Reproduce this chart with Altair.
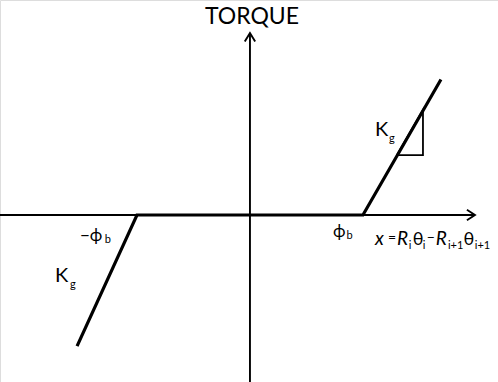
import altair as alt
import pandas as pd

# Torque vs. relative displacement: dead band of width 2*phi_b, stiffness K_g outside it
disp = [-1.53, -1.0, 1.0, 1.69]
torque = [-1.16, 0.0, 0.0, 1.20]

# slope triangle on the right branch
tri_x = [1.30, 1.531, 1.531, 1.30]
tri_y = [0.53, 0.53, 0.930, 0.53]

# coordinate axes (with open arrowheads)
axis_seg = ["h", "h", "v", "v", "ha", "ha", "ha", "va", "va", "va"]
axis_x = [-2.22, 1.991, 0.0, 0.0, 1.920, 1.991, 1.920, -0.046, 0.0, 0.046]
axis_y = [0.0, 0.0, -1.48, 1.611, 0.046, 0.0, -0.046, 1.535, 1.611, 1.535]

XDOM = [-2.212, 2.195]
YDOM = [-1.478, 1.903]

curve_df = pd.DataFrame({"x": disp, "y": torque, "o": range(len(disp))})
tri_df = pd.DataFrame({"x": tri_x, "y": tri_y, "o": range(len(tri_x))})
axis_df = pd.DataFrame({"seg": axis_seg, "x": axis_x, "y": axis_y,
                        "o": range(len(axis_x))})

xs = alt.Scale(domain=XDOM, nice=False, zero=False)
ys = alt.Scale(domain=YDOM, nice=False, zero=False)
X = alt.X("x:Q", scale=xs, axis=None)
Y = alt.Y("y:Q", scale=ys, axis=None)

axes = alt.Chart(axis_df).mark_line(color="black", strokeWidth=1.9).encode(
    x=X, y=Y, detail="seg:N", order="o:Q")
curve = alt.Chart(curve_df).mark_line(color="black", strokeWidth=3.2).encode(
    x=X, y=Y, order="o:Q")
tri = alt.Chart(tri_df).mark_line(color="black", strokeWidth=1.8).encode(
    x=X, y=Y, order="o:Q")

FONT = "Lato"

def labels(rows, size, style="normal", align="left", baseline="alphabetic"):
    df = pd.DataFrame(rows, columns=["x", "y", "t"])
    return alt.Chart(df).mark_text(
        font=FONT, fontSize=size, fontStyle=style, align=align,
        baseline=baseline, color="black").encode(x=X, y=Y, text="t:N")

title = labels([(0.018, 1.755, "TORQUE")], 23, align="center", baseline="middle")

k_txt = labels([
    (1.106, 0.699, "K"),
    (-1.726, -0.593, "K"),
], 20)

phi_txt = labels([
    (-1.504, -0.230, "−ϕ"),
    (0.735, -0.195, "ϕ"),
], 17)

main_txt = labels([
    (1.440, -0.265, "θ"),
    (1.890, -0.265, "θ"),
], 18)

ops_txt = labels([
    (1.221, -0.235, "="),
    (1.565, -0.235, "−"),
], 14)

ital_txt = labels([
    (1.106, -0.265, "x"),
    (1.301, -0.265, "R"),
    (1.645, -0.265, "R"),
], 19, style="italic")

sub_txt = labels([
    (1.230, 0.646, "g"),
    (-1.593, -0.646, "g"),
    (-1.285, -0.248, "b"),
    (0.855, -0.212, "b"),
    (1.405, -0.301, "i"),
    (1.530, -0.301, "i"),
    (1.752, -0.301, "i+1"),
    (1.990, -0.301, "i+1"),
], 11)

chart = alt.layer(axes, curve, tri, title, k_txt, phi_txt, main_txt, ops_txt,
                  ital_txt, sub_txt).properties(
    width=498, height=382, autosize="none", padding=0,
).configure_view(strokeWidth=0).configure(background="white")

chart.save("out.html", embed_options={"renderer": "svg", "actions": False})
